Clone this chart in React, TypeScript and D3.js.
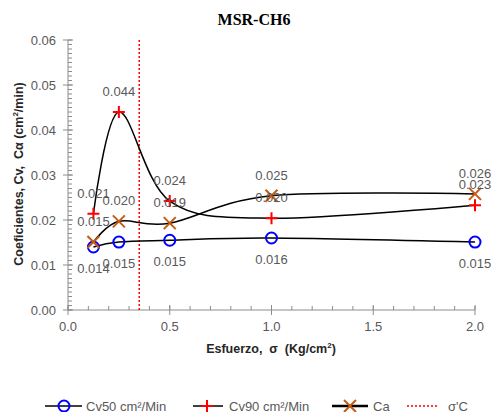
import React from "react";
import * as d3 from "d3";

const xValues = [0.125, 0.25, 0.5, 1.0, 2.0];
const cv50 = [0.014, 0.0151, 0.0155, 0.016, 0.0151];
const cv90 = [0.0214, 0.044, 0.0242, 0.0204, 0.0233];
const ca = [0.0151, 0.0197, 0.0193, 0.0254, 0.0258];
const sigmaC = 0.35;
const yTicks = [0, 0.01, 0.02, 0.03, 0.04, 0.05, 0.06];
const xTicks = [0, 0.5, 1.0, 1.5, 2.0];
const legendLabels = ["Cv50 cm²/Min", "Cv90 cm²/Min", "Ca", "σ'C"];

const W = 492, H = 412;
const x = d3.scaleLinear().domain([0, 2]).range([68, 475]);
const y = d3.scaleLinear().domain([0, 0.06]).range([310, 40]);
const line = d3.line<number>().x((_, i) => x(xValues[i])).y((d) => y(d)).curve(d3.curveCardinal.tension(0));

const gray = "#595959";
const axisColor = "#8c8c8c";
const font = "'Liberation Sans', Arial, sans-serif";
const blue = "#0000ff";
const red = "#ff0000";
const orange = "#c55a11";

const Circle = ({ cx, cy }: { cx: number; cy: number }) => (
  <circle cx={cx} cy={cy} r={5.5} fill="none" stroke={blue} strokeWidth={2} />
);
const Plus = ({ cx, cy }: { cx: number; cy: number }) => (
  <path d={`M${cx - 6},${cy}H${cx + 6}M${cx},${cy - 6}V${cy + 6}`} stroke={red} strokeWidth={2} />
);
const Cross = ({ cx, cy }: { cx: number; cy: number }) => (
  <path d={`M${cx - 6},${cy - 6}L${cx + 6},${cy + 6}M${cx + 6},${cy - 6}L${cx - 6},${cy + 6}`} stroke={orange} strokeWidth={2} />
);

export default function App() {
  const yMinor = d3.range(0, 0.0605, 0.001);
  const xMinor = d3.range(0, 2.05, 0.1);
  const fmt = d3.format(".3f");
  return (
    <svg width={W} height={H} style={{ position: "absolute", left: 0, top: 0, background: "#fff" }}>
      <text x={254} y={25} textAnchor="middle" fontFamily="'Liberation Serif', 'Times New Roman', serif" fontWeight="bold" fontSize={16} fill="#000">MSR-CH6</text>
      {/* y axis */}
      <line x1={68} x2={68} y1={y(0.06)} y2={y(0)} stroke={axisColor} />
      {yMinor.map((t, i) => (
        <line key={"ym" + i} x1={68} x2={72} y1={y(t)} y2={y(t)} stroke={axisColor} />
      ))}
      {yTicks.map((t) => (
        <g key={"yt" + t}>
          <line x1={63} x2={73} y1={y(t)} y2={y(t)} stroke={axisColor} />
          <text x={56} y={y(t) + 4.5} textAnchor="end" fontFamily={font} fontSize={13} fill={gray}>{t.toFixed(2)}</text>
        </g>
      ))}
      {/* x axis */}
      <line x1={x(0)} x2={x(2)} y1={310} y2={310} stroke={axisColor} />
      {xMinor.map((t, i) => (
        <line key={"xm" + i} x1={x(t)} x2={x(t)} y1={306} y2={310} stroke={axisColor} />
      ))}
      {xTicks.map((t) => (
        <g key={"xt" + t}>
          <line x1={x(t)} x2={x(t)} y1={305} y2={315} stroke={axisColor} />
          <text x={x(t)} y={331} textAnchor="middle" fontFamily={font} fontSize={13} fill={gray}>{t.toFixed(1)}</text>
        </g>
      ))}
      <text x={271} y={353} textAnchor="middle" fontFamily={font} fontWeight="bold" fontSize={12.5} fill="#262626" style={{ whiteSpace: "pre" }}>Esfuerzo,  σ  (Kg/cm<tspan fontSize={8} dy={-5}>2</tspan><tspan dy={5}>)</tspan></text>
      <text transform="translate(23,174) rotate(-90)" textAnchor="middle" fontFamily={font} fontWeight="bold" fontSize={12.5} fill="#262626" style={{ whiteSpace: "pre" }}>Coeficientes, Cv,  Cα (cm<tspan fontSize={8} dy={-5}>2</tspan><tspan dy={5}>/min)</tspan></text>
      {/* sigma C */}
      <line x1={x(sigmaC)} x2={x(sigmaC)} y1={y(0.06)} y2={y(0)} stroke={red} strokeWidth={1.5} strokeDasharray="2,2" />
      {/* lines */}
      <path d={line(cv50) || ""} fill="none" stroke="#000" strokeWidth={1.5} />
      <path d={line(cv90) || ""} fill="none" stroke="#000" strokeWidth={1.5} />
      <path d={line(ca) || ""} fill="none" stroke="#000" strokeWidth={1.5} />
      {xValues.map((v, i) => <Circle key={"c" + i} cx={x(v)} cy={y(cv50[i])} />)}
      {xValues.map((v, i) => <Plus key={"p" + i} cx={x(v)} cy={y(cv90[i])} />)}
      {xValues.map((v, i) => <Cross key={"x" + i} cx={x(v)} cy={y(ca[i])} />)}
      {/* data labels */}
      {xValues.map((v, i) => (
        <text key={"l50" + i} x={x(v)} y={y(cv50[i]) + 26} textAnchor="middle" fontFamily={font} fontSize={13} fill={gray}>{fmt(cv50[i])}</text>
      ))}
      {xValues.map((v, i) => (
        <text key={"l90" + i} x={x(v)} y={y(cv90[i]) - 16} textAnchor="middle" fontFamily={font} fontSize={13} fill={gray}>{fmt(cv90[i])}</text>
      ))}
      {xValues.map((v, i) => (
        <text key={"lca" + i} x={x(v)} y={y(ca[i]) - 16} textAnchor="middle" fontFamily={font} fontSize={13} fill={gray}>{fmt(ca[i])}</text>
      ))}
      {/* legend */}
      <g fontFamily={font} fontSize={13} fill={gray}>
        <line x1={45} x2={82} y1={406} y2={406} stroke="#000" strokeWidth={1.5} />
        <Circle cx={64} cy={406} />
        <text x={86} y={410.5}>{legendLabels[0]}</text>
        <line x1={193} x2={223} y1={406} y2={406} stroke="#000" strokeWidth={1.5} />
        <Plus cx={207} cy={406} />
        <text x={229} y={410.5}>{legendLabels[1]}</text>
        <line x1={332} x2={368} y1={406} y2={406} stroke="#000" strokeWidth={2.5} />
        <Cross cx={350} cy={406} />
        <text x={373} y={410.5}>{legendLabels[2]}</text>
        <line x1={407} x2={437} y1={406} y2={406} stroke={red} strokeWidth={1.5} strokeDasharray="2,2" />
        <text x={448} y={410.5}>{legendLabels[3]}</text>
      </g>
    </svg>
  );
}
